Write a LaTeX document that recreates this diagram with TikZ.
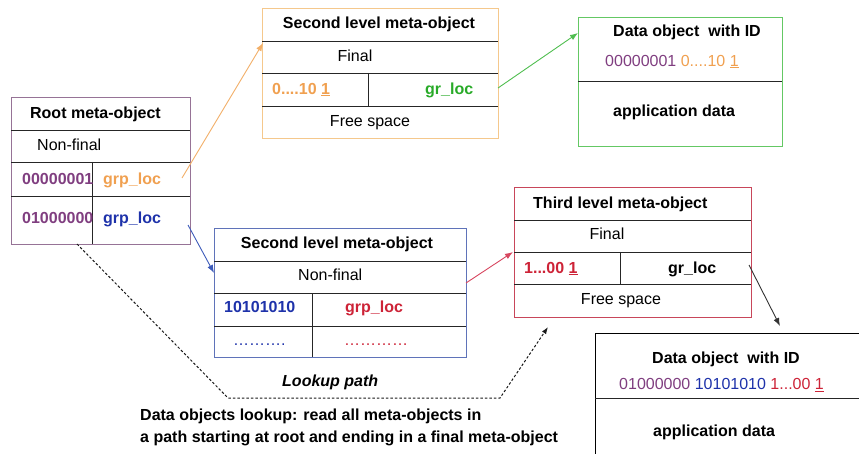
\documentclass[tikz,border=0pt]{standalone}
\usepackage{fontspec}
\setmainfont{Liberation Sans}
\usetikzlibrary{arrows.meta}
\definecolor{cpurple}{RGB}{128,62,128}
\definecolor{corange}{RGB}{240,160,80}
\definecolor{cgreen}{RGB}{40,170,40}
\definecolor{cblue}{RGB}{30,50,170}
\definecolor{cred}{RGB}{205,35,55}
\definecolor{rootc}{RGB}{150,115,150}
\definecolor{orangec}{RGB}{245,200,140}
\definecolor{greenc}{RGB}{100,200,100}
\definecolor{bluec}{RGB}{95,115,185}
\definecolor{redc}{RGB}{200,70,90}
\definecolor{oarrow}{RGB}{242,175,105}
\definecolor{garrow}{RGB}{80,190,80}
\definecolor{barrow}{RGB}{60,90,185}
\definecolor{rarrow}{RGB}{215,70,95}
\begin{document}
\begin{tikzpicture}[x=1pt,y=-1pt]
\tikzset{
  txt/.style={inner sep=0pt, text height=11.5pt, text depth=0pt, font=\fontsize{16}{19}\selectfont},
  bf/.style={txt, font=\fontsize{16}{19}\selectfont\bfseries},
  L/.style={anchor=west},
  frame/.style={draw, line width=0.9pt, inner sep=0pt, anchor=north west},
  rul/.style={line width=0.8pt, black!85},
  link/.style={line width=0.9pt, -{Latex[length=8pt,width=6pt]}},
  lookup/.style={line width=1pt, black!90, dash pattern=on 2.5pt off 2pt, -{Latex[length=7pt,width=5pt]}}
}
\useasboundingbox (0,0) rectangle (859,454);
\clip (0,0) rectangle (859,454);

% ---------- Root meta-object ----------
\node[frame, draw=rootc, minimum width=179pt, minimum height=147pt] (root) at (11,97) {};
\draw[rul] (11,130) -- (190,130);
\draw[rul] (11,162) -- (190,162);
\draw[rul] (11,196) -- (190,196);
\draw[rul] (92,162) -- (92,244);
\node[bf] (roott) at (95.5,112.5) {Root meta-object};
\node[txt,L] (rootnf) at (37,145) {Non-final};
\node[bf,L,text=cpurple] (rootk1) at (22,178.5) {00000001};
\node[bf,L,text=corange] (rootg1) at (103,178.5) {grp\_loc};
\node[bf,L,text=cpurple] (rootk2) at (22,218) {01000000};
\node[bf,L,text=cblue] (rootg2) at (103,218) {grp\_loc};

% ---------- Second level (final, orange) ----------
\node[frame, draw=orangec, minimum width=236pt, minimum height=130pt] (sec1) at (262,8) {};
\draw[rul] (262,41) -- (498,41);
\draw[rul] (262,73) -- (498,73);
\draw[rul] (262,106) -- (498,106);
\draw[rul] (368,73) -- (368,106);
\node[bf] (sec1t) at (379,22.5) {Second level meta-object};
\node[txt] (sec1f) at (355,56) {Final};
\node[bf,L,text=corange] (sec1k) at (272,88.5) {0....10 \underline{1}};
\node[bf,L,text=cgreen] (sec1g) at (425,88.5) {gr\_loc};
\node[txt] (sec1s) at (370,120.5) {Free space};

% ---------- Data object (green) ----------
\node[frame, draw=greenc, minimum width=204pt, minimum height=129pt] (data1) at (578,17) {};
\draw[rul] (578,81) -- (782,81);
\node[bf,L] (data1t) at (613,31) {Data object~ with ID};
\node[txt,L] (data1id) at (605,60.5) {{\color{cpurple}00000001} {\color{corange}0....10 \underline{1}}};
\node[bf,L] (data1a) at (613,111) {application data};

% ---------- Second level (non-final, blue) ----------
\node[frame, draw=bluec, minimum width=252pt, minimum height=129pt] (sec2) at (214,228) {};
\draw[rul] (214,261) -- (466,261);
\draw[rul] (214,293) -- (466,293);
\draw[rul] (214,326) -- (466,326);
\draw[rul] (312,293) -- (312,357);
\node[bf] (sec2t) at (337,242.5) {Second level meta-object};
\node[txt,L] (sec2nf) at (298,275) {Non-final};
\node[bf,L,text=cblue] (sec2k) at (224,307) {10101010};
\node[bf,L,text=cred] (sec2g) at (345,307) {grp\_loc};
\node[txt,L,text=cblue] (sec2d1) at (233,340) {……….};
\node[txt,L,text=cred] (sec2d2) at (344,340) {…………};

% ---------- Third level (red) ----------
\node[frame, draw=redc, minimum width=237pt, minimum height=130pt] (thr) at (514,187) {};
\draw[rul] (514,220) -- (751,220);
\draw[rul] (514,252) -- (751,252);
\draw[rul] (514,284) -- (751,284);
\draw[rul] (620,252) -- (620,284);
\node[bf,L] (thrt) at (533,202.5) {Third level meta-object};
\node[txt] (thrf) at (607,234) {Final};
\node[bf,L,text=cred] (thrk) at (524,267.5) {1...00 \underline{1}};
\node[bf,L] (thrg) at (668,267.5) {gr\_loc};
\node[txt] (thrs) at (621,299) {Free space};

% ---------- Data object (black) ----------
\node[frame, draw=black, minimum width=290pt, minimum height=150pt] (data2) at (595,333) {};
\draw[rul] (595,398) -- (885,398);
\node[bf,L] (data2t) at (652,357.5) {Data object~ with ID};
\node[txt,L] (data2id) at (619,384) {{\color{cpurple}01000000} {\color{cblue}10101010} {\color{cred}1...00 \underline{1}}};
\node[bf,L] (data2a) at (653,431) {application data};

% ---------- connectors ----------
\coordinate (oa) at (182,178);
\coordinate (ob) at (263,43);
\coordinate (ga) at (498,88);
\coordinate (gb) at (578,33);
\coordinate (ba) at (188,225);
\coordinate (bb) at (214,273);
\coordinate (ra) at (466,283);
\coordinate (rb) at (513,252);
\coordinate (ka) at (749,265);
\coordinate (kb) at (780,326);
\coordinate (la) at (77,244);
\coordinate (lb) at (228,398);
\coordinate (lc) at (500,398);
\coordinate (ld) at (548,327);
\draw[link, oarrow] (oa) -- (ob);
\draw[link, garrow] (ga) -- (gb);
\draw[link, barrow] (ba) -- (bb);
\draw[link, rarrow] (ra) -- (rb);
\draw[link, black!80] (ka) -- (kb);
\draw[lookup] (la) -- (lb) -- (lc) -- (ld);

% ---------- captions ----------
\node[bf,L,font=\fontsize{16}{19}\selectfont\bfseries\itshape] (lp) at (282,381) {Lookup path};
\node[bf,L] (cap1) at (140,415) {Data objects lookup: read all meta-objects in};
\node[bf,L] (cap2) at (140,437) {a path starting at root and ending in a final meta-object};
\end{tikzpicture}
\end{document}
